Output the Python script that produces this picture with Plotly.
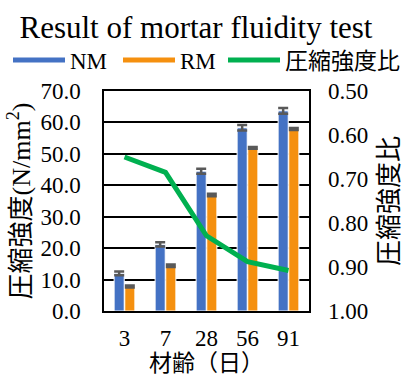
import plotly.graph_objects as go

categories = ["3", "7", "28", "56", "91"]
nm_values = [12.0, 21.2, 44.5, 58.3, 63.7]
nm_errors = [0.6, 0.7, 0.8, 0.9, 0.9]
rm_values = [7.8, 14.4, 36.9, 51.9, 57.9]
rm_errors = [0.3, 0.4, 0.4, 0.3, 0.3]
ratio_values = [0.65, 0.685, 0.829, 0.888, 0.908]

FONT = "Liberation Serif, Times New Roman, Noto Sans CJK JP, serif"
BLUE = "#4472C4"
ORANGE = "#F5900F"
GREEN = "#00B050"
ERRC = "#595959"

fig = go.Figure()
fig.add_trace(go.Bar(
    x=categories, y=nm_values, name="NM", marker=dict(color=BLUE, line=dict(color="white", width=1)),
    error_y=dict(type="data", array=nm_errors, color=ERRC, thickness=2.5, width=5),
    showlegend=False))
fig.add_trace(go.Bar(
    x=categories, y=rm_values, name="RM", marker=dict(color=ORANGE, line=dict(color="white", width=1)),
    error_y=dict(type="data", array=rm_errors, color=ERRC, thickness=2.5, width=5),
    showlegend=False))
fig.add_trace(go.Scatter(
    x=categories, y=ratio_values, name="圧縮強度比", mode="lines", yaxis="y2",
    line=dict(color=GREEN, width=5), showlegend=False))

# legend entries (one legend each, so they sit on a single row)
fig.add_trace(go.Scatter(x=[None], y=[None], mode="lines", name="NM",
                         line=dict(color=BLUE, width=5), legend="legend"))
fig.add_trace(go.Scatter(x=[None], y=[None], mode="lines", name="RM",
                         line=dict(color=ORANGE, width=5), legend="legend2"))
fig.add_trace(go.Scatter(x=[None], y=[None], mode="lines", name="圧縮強度比",
                         line=dict(color=GREEN, width=5), legend="legend3"))

leg_common = dict(orientation="h", xref="container", yref="container", xanchor="left",
                  y=0.84, yanchor="middle", itemwidth=52, font=dict(size=23),
                  bgcolor="rgba(0,0,0,0)", borderwidth=0)

fig.update_layout(
    width=410, height=376,
    margin=dict(l=104, r=101, t=91, b=65, autoexpand=False),
    paper_bgcolor="white", plot_bgcolor="white",
    font=dict(family=FONT, size=23, color="black"),
    title=dict(text="Result of mortar fluidity test", x=0.478, xanchor="center",
               y=0.928, yanchor="middle", font=dict(size=31, family=FONT)),
    barmode="group", bargap=0.48, bargroupgap=0.05,
    legend=dict(x=8 / 410, **leg_common),
    legend2=dict(x=118 / 410, **leg_common),
    legend3=dict(x=223 / 410, **leg_common),
    xaxis=dict(type="category", showline=True, linecolor="black", linewidth=1.5, mirror=True,
               ticks="", tickfont=dict(size=23), ticklabelstandoff=6,
               title=dict(text="材齢（日）", font=dict(size=23), standoff=2)),
    yaxis=dict(range=[0, 70], dtick=10, tickformat=".1f", showgrid=True, gridcolor="black",
               gridwidth=1.5, showline=True, linecolor="black", linewidth=1.5, mirror=True,
               ticks="", zeroline=False, tickfont=dict(size=23), ticklabelstandoff=17,
               title=dict(text="圧縮強度(N/mm<sup>2</sup>)", font=dict(size=26), standoff=2)),
    yaxis2=dict(range=[1.0, 0.5], dtick=0.1, tickformat=".2f", overlaying="y", side="right",
                showgrid=False, zeroline=False, ticks="", tickfont=dict(size=23),
                ticklabelstandoff=18,
                title=dict(text="圧縮強度比", font=dict(size=26), standoff=12)),
)

fig.write_html("out.html", config={"displayModeBar": False},
               post_script="document.body.style.margin='0';")
